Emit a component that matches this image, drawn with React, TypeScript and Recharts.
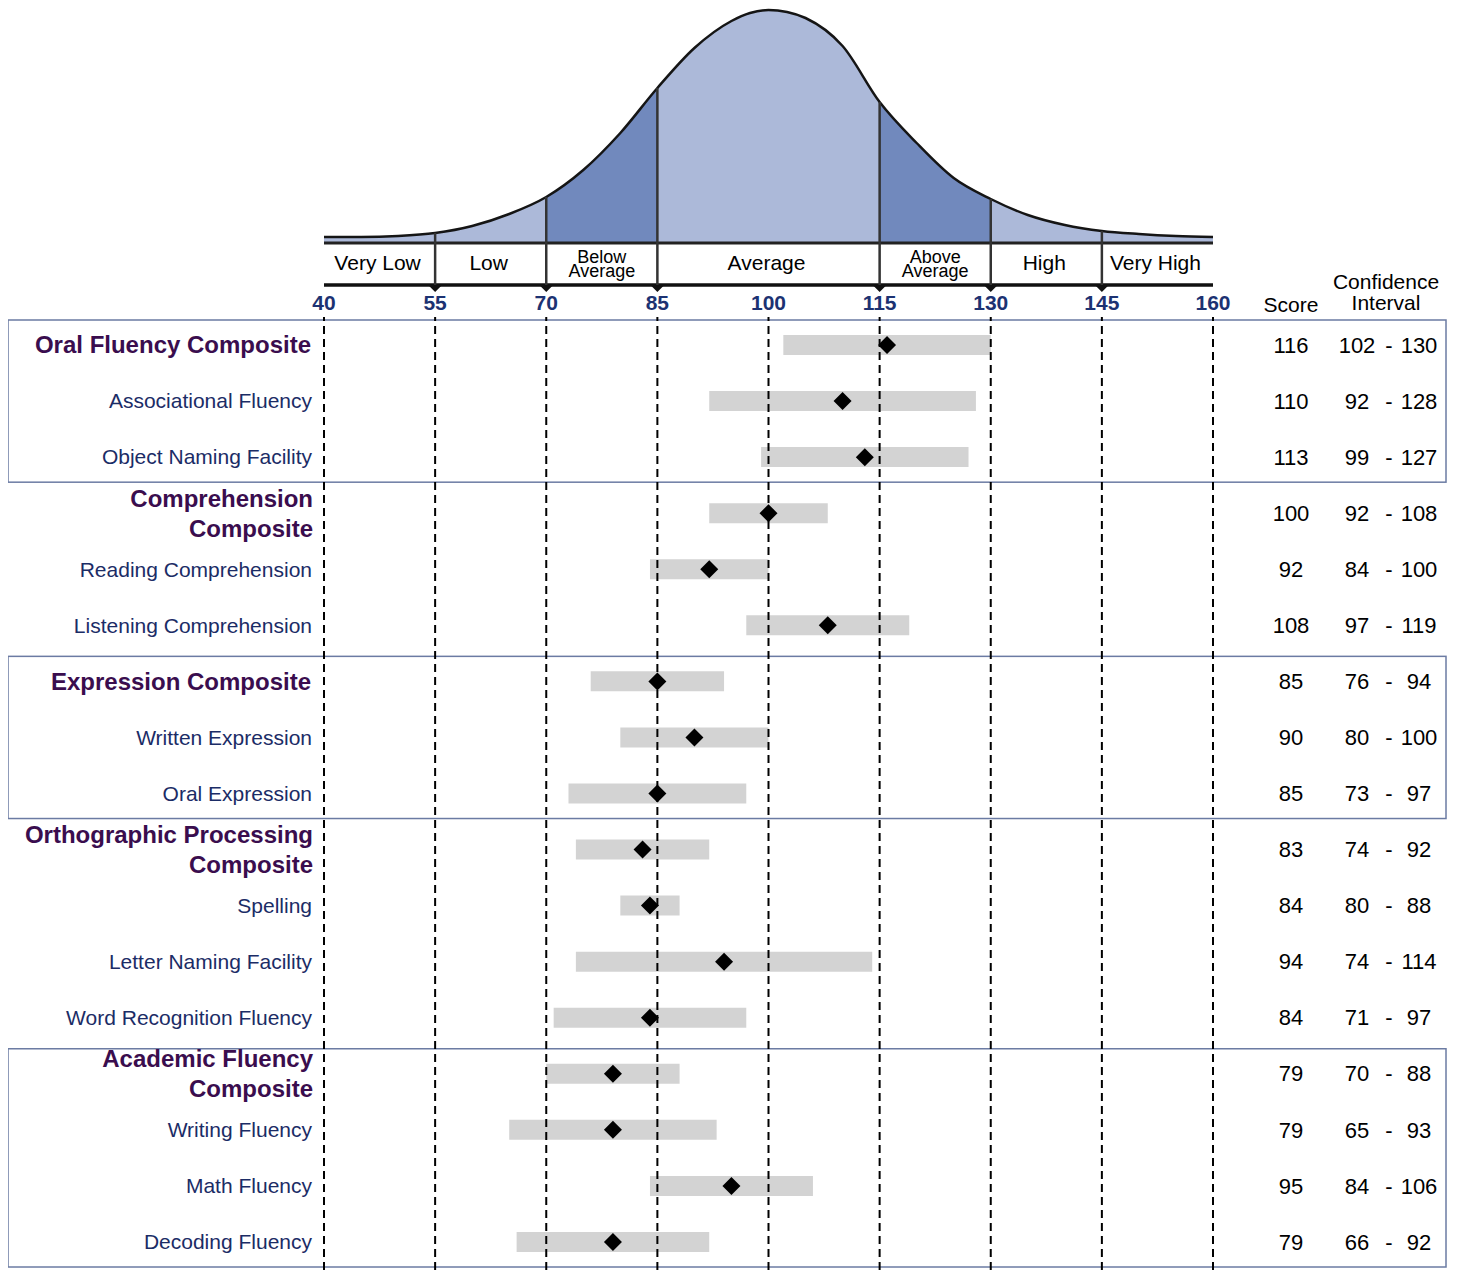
import React from 'react';
import {
  ComposedChart, Area, Line, Bar, Scatter, XAxis, YAxis,
  ReferenceLine, ReferenceArea, ReferenceDot,
} from 'recharts';

// bell curve (height above the band row)
const curveX = [40, 45, 50, 55, 60, 65, 70, 75, 80, 85, 90, 95, 97.5, 100, 102.5, 105, 110, 115, 120, 125, 130, 135, 140, 145, 150, 155, 160];
const curveH = [6, 6, 7, 10, 17, 29, 46, 73, 110, 155, 195, 222, 230, 233, 231, 225, 197, 141, 100, 65, 44, 28, 18, 12, 9, 7, 6];

const axisTicks = [40, 55, 70, 85, 100, 115, 130, 145, 160];
const bandEdges = [55, 70, 85, 115, 130, 145];
const bandNames = ['Very Low', 'Low', 'Below Average', 'Average', 'Above Average', 'High', 'Very High'];
const bandFrom = [40, 55, 70, 85, 115, 130, 145];
const bandTo = [55, 70, 85, 115, 130, 145, 160];

const rowNames = [
  'Oral Fluency Composite', 'Associational Fluency', 'Object Naming Facility',
  'Comprehension Composite', 'Reading Comprehension', 'Listening Comprehension',
  'Expression Composite', 'Written Expression', 'Oral Expression',
  'Orthographic Processing Composite', 'Spelling', 'Letter Naming Facility', 'Word Recognition Fluency',
  'Academic Fluency Composite', 'Writing Fluency', 'Math Fluency', 'Decoding Fluency',
];
const scores = [116, 110, 113, 100, 92, 108, 85, 90, 85, 83, 84, 94, 84, 79, 79, 95, 79];
const ciLow = [102, 92, 99, 92, 84, 97, 76, 80, 73, 74, 80, 74, 71, 70, 65, 84, 66];
const ciHigh = [130, 128, 127, 108, 100, 119, 94, 100, 97, 92, 88, 114, 97, 88, 93, 106, 92];

const composites = [
  'Oral Fluency Composite', 'Comprehension Composite', 'Expression Composite',
  'Orthographic Processing Composite', 'Academic Fluency Composite',
];
const twoLine: Record<string, string[]> = {
  'Comprehension Composite': ['Comprehension', 'Composite'],
  'Orthographic Processing Composite': ['Orthographic Processing', 'Composite'],
  'Academic Fluency Composite': ['Academic Fluency', 'Composite'],
};
// groups drawn with a frame
const boxedGroups = [
  ['Oral Fluency Composite', 'Object Naming Facility'],
  ['Expression Composite', 'Oral Expression'],
  ['Academic Fluency Composite', 'Decoding Fluency'],
];

const FONT = '"Liberation Sans", Arial, Helvetica, sans-serif';
const W = 1443;
const LEFT = 316;
const RIGHT = 238;

const curveData = curveX.map((x, i) => ({ x, h: curveH[i] }));
const rows = rowNames.map((name, i) => ({ name, score: scores[i], ci: [ciLow[i], ciHigh[i]] }));

const heightAt = (x: number) => curveData.find((d) => d.x === x)?.h ?? 0;

const BandLabel = (props: any, text: string) => {
  const vb = props.viewBox || {};
  const cx = vb.x + vb.width / 2;
  const cy = vb.y + vb.height / 2;
  const parts = text.split(' ');
  if (text === 'Below Average' || text === 'Above Average') {
    return (
      <text x={cx} textAnchor="middle" fontFamily={FONT} fontSize={18} fill="#000">
        <tspan x={cx} y={cy - 1}>{parts[0]}</tspan>
        <tspan x={cx} y={cy + 13}>{parts[1]}</tspan>
      </text>
    );
  }
  return (
    <text x={cx - 2} y={cy} dy="0.3em" textAnchor="middle" fontFamily={FONT} fontSize={21} fill="#000">
      {text}
    </text>
  );
};

const RowTick = (props: any) => {
  const { y, payload } = props;
  const name: string = payload.value;
  const i = rowNames.indexOf(name);
  const isComp = composites.includes(name);
  const lines = twoLine[name];
  const labelX = 305;
  const plotRight = W - RIGHT;
  return (
    <g fontFamily={FONT}>
      {lines ? (
        <text textAnchor="end" fontSize={24} fontWeight="bold" fill="#3a0d4e">
          <tspan x={labelX} y={y - 15} dy="0.35em">{lines[0]}</tspan>
          <tspan x={labelX} y={y + 15} dy="0.35em">{lines[1]}</tspan>
        </text>
      ) : (
        <text x={isComp ? 303 : 304} y={y} dy="0.35em" textAnchor="end"
          fontSize={isComp ? 24 : 21} fontWeight={isComp ? 'bold' : 'normal'}
          fill={isComp ? '#3a0d4e' : '#1b2c66'}>
          {name}
        </text>
      )}
      <text x={plotRight + 78} y={y} dy="0.35em" textAnchor="middle" fontSize={22} fill="#000">{scores[i]}</text>
      <text x={plotRight + 144} y={y} dy="0.35em" textAnchor="middle" fontSize={22} fill="#000">{ciLow[i]}</text>
      <text x={plotRight + 176} y={y} dy="0.35em" textAnchor="middle" fontSize={22} fill="#000">-</text>
      <text x={plotRight + 206} y={y} dy="0.35em" textAnchor="middle" fontSize={22} fill="#000">{ciHigh[i]}</text>
    </g>
  );
};

const Diamond = (props: any) => {
  const { cx, cy } = props;
  const r = 9;
  return <path d={`M${cx},${cy - r}L${cx + r},${cy}L${cx},${cy + r}L${cx - r},${cy}Z`} fill="#000" />;
};

const ArrowHead = (props: any) => {
  const { cx, cy } = props;
  return <path d={`M${cx - 6},${cy}L${cx + 6},${cy}L${cx},${cy + 6}Z`} fill="#111" />;
};

export default function App() {
  return (
    <div style={{ position: 'relative', width: W, fontFamily: FONT }}>
      <ComposedChart width={W} height={309} data={curveData}
        margin={{ top: 0, right: RIGHT, bottom: 0, left: LEFT }}>
        <XAxis dataKey="x" type="number" domain={[40, 160]} ticks={axisTicks} interval={0}
          allowDataOverflow axisLine={false} tickLine={false}
          tick={{ fill: '#1c3272', fontSize: 21, fontWeight: 'bold', fontFamily: FONT }} height={30} />
        <YAxis hide type="number" domain={[-44, 235]} allowDataOverflow />
        <Area dataKey="h" type="monotone" fill="#acb9d9" fillOpacity={1} stroke="none" isAnimationActive={false} />
        <Area dataKey={(d: any) => (d.x >= 70 && d.x <= 85 ? d.h : null)} type="monotone"
          fill="#7189bd" fillOpacity={1} stroke="none" isAnimationActive={false} />
        <Area dataKey={(d: any) => (d.x >= 115 && d.x <= 130 ? d.h : null)} type="monotone"
          fill="#7189bd" fillOpacity={1} stroke="none" isAnimationActive={false} />
        <Line dataKey="h" type="monotone" stroke="#151515" strokeWidth={2.5} dot={false} isAnimationActive={false} />
        <ReferenceLine y={0} stroke="#222" strokeWidth={3} />
        <ReferenceLine y={-42} stroke="#111" strokeWidth={3.5} />
        {bandEdges.map((b) => (
          <ReferenceLine key={'e' + b} segment={[{ x: b, y: -42 }, { x: b, y: heightAt(b) }]}
            stroke="#333" strokeWidth={2.5} />
        ))}
        {bandEdges.map((b) => (
          <ReferenceDot key={'a' + b} x={b} y={-43} r={6} shape={ArrowHead} />
        ))}
        {bandNames.map((n, i) => (
          <ReferenceArea key={n} x1={bandFrom[i]} x2={bandTo[i]} y1={-42} y2={0}
            fill="none" stroke="none" label={(p: any) => BandLabel(p, n)} />
        ))}
      </ComposedChart>

      <ComposedChart width={W} height={955} data={rows} layout="vertical"
        margin={{ top: 0, right: RIGHT, bottom: 2, left: 0 }}>
        <XAxis type="number" domain={[40, 160]} hide allowDataOverflow />
        <YAxis type="category" dataKey="name" width={LEFT} interval={0}
          axisLine={false} tickLine={false} tick={RowTick} />
        {boxedGroups.map(([a, b]) => (
          <ReferenceArea key={a} y1={a} y2={b} ifOverflow="visible"
            shape={(p: any) => (
              <rect x={0} y={p.y + 3} width={1438} height={p.height - 6}
                fill="none" stroke="#6b7ba3" strokeWidth={1.5} />
            )} />
        ))}
        <Bar dataKey="ci" fill="#d3d3d3" barSize={20} isAnimationActive={false} />
        {axisTicks.map((t) => (
          <ReferenceLine key={t} x={t} stroke="#000" strokeWidth={2} strokeDasharray="8 5" />
        ))}
        <Scatter dataKey="score" shape={Diamond} isAnimationActive={false} />
      </ComposedChart>

      <svg width={W} height={320} style={{ position: 'absolute', left: 0, top: 0, pointerEvents: 'none' }}>
        <text x={1283} y={297} dy="0.35em" textAnchor="middle" fontFamily={FONT} fontSize={21} fill="#000">Score</text>
        <text x={1378} y={274} dy="0.35em" textAnchor="middle" fontFamily={FONT} fontSize={21} fill="#000">Confidence</text>
        <text x={1378} y={295} dy="0.35em" textAnchor="middle" fontFamily={FONT} fontSize={21} fill="#000">Interval</text>
      </svg>
    </div>
  );
}
